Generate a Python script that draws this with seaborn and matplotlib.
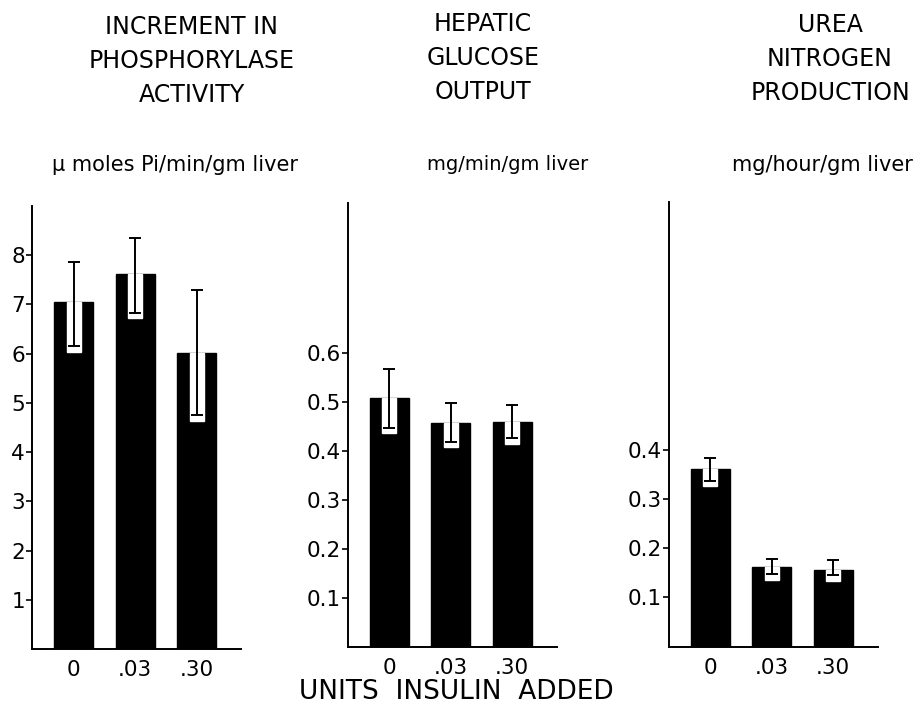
import seaborn as sns
import matplotlib.pyplot as plt

# insulin doses (units added) and readings
doses = ['0', '.03', '.30']

phos_mean = [7.05, 7.62, 6.02]
phos_hi = [7.86, 8.36, 7.30]
phos_lo = [6.15, 6.83, 4.75]

gluc_mean = [0.509, 0.458, 0.460]
gluc_hi = [0.568, 0.499, 0.494]
gluc_lo = [0.447, 0.419, 0.426]

urea_mean = [0.362, 0.162, 0.157]
urea_hi = [0.385, 0.178, 0.177]
urea_lo = [0.337, 0.147, 0.145]

phos_ticks = [1, 2, 3, 4, 5, 6, 7, 8]
gluc_ticks = [0.1, 0.2, 0.3, 0.4, 0.5, 0.6]
urea_ticks = [0.1, 0.2, 0.3, 0.4]

titles = ['INCREMENT IN\nPHOSPHORYLASE\nACTIVITY',
          'HEPATIC\nGLUCOSE\nOUTPUT',
          'UREA\nNITROGEN\nPRODUCTION']
units = ['\u03bc moles Pi/min/gm liver', 'mg/min/gm liver', 'mg/hour/gm liver']

sns.set_style('ticks')
plt.rcParams['font.family'] = ['DejaVu Sans']
plt.rcParams['text.color'] = 'black'

W, H = 921, 721
fig = plt.figure(figsize=(W / 100, H / 100), dpi=100)


def px_axes(left, base, top, width=209):
    return fig.add_axes([left / W, (H - base) / H, width / W, (base - top) / H])


panels = [
    (px_axes(32, 649, 206), phos_mean, phos_hi, phos_lo, phos_ticks, 9.0, lambda v: f'{v:d}'),
    (px_axes(347.5, 647.3, 203), gluc_mean, gluc_hi, gluc_lo, gluc_ticks, 0.906, lambda v: f'{v:.1f}'),
    (px_axes(668.5, 646.6, 201.7), urea_mean, urea_hi, urea_lo, urea_ticks, 0.906, lambda v: f'{v:.1f}'),
]

for ax, mean, hi, lo, ticks, ytop, fmt in panels:
    sns.barplot(x=doses, y=mean, color='black', width=0.63, saturation=1,
                edgecolor='black', ax=ax)
    pos = list(range(len(doses)))
    # white window inside the bar behind the lower half of the error bar
    pad = ytop * 0.012
    win_bottom = [l - pad for l in lo]
    win_height = [m - b for m, b in zip(mean, win_bottom)]
    ax.bar(pos, win_height, bottom=win_bottom, width=0.23, color='white', zorder=3)
    yerr = [[m - l for m, l in zip(mean, lo)], [h - m for m, h in zip(mean, hi)]]
    ax.errorbar(pos, mean, yerr=yerr, fmt='none', ecolor='black', elinewidth=1.4,
                capsize=4.5, capthick=1.4, zorder=4)

    ax.set_xlim(-0.68, 2.72)
    ax.set_ylim(0, ytop)
    ax.set_yticks(ticks)
    ax.set_yticklabels([fmt(t) for t in ticks])
    ax.tick_params(axis='y', direction='out', length=4, width=1.2, pad=1,
                   labelsize=15.5, color='black', labelcolor='black')
    ax.tick_params(axis='x', length=0, pad=8, labelsize=15.5, labelcolor='black')
    for side in ['top', 'right']:
        ax.spines[side].set_visible(False)
    for side in ['left', 'bottom']:
        ax.spines[side].set_linewidth(1.4)
        ax.spines[side].set_color('black')
    ax.set_xlabel('')
    ax.set_ylabel('')

title_pos = [(191.7, 61), (483, 58), (830, 59)]
unit_pos = [(175, 165), (508, 165), (822, 165)]
unit_size = [15, 14, 15]
for t, (x, y) in zip(titles, title_pos):
    fig.text(x / W, 1 - y / H, t, ha='center', va='center', multialignment='center',
             fontsize=17, linespacing=1.52)
for u, (x, y), s in zip(units, unit_pos, unit_size):
    fig.text(x / W, 1 - y / H, u, ha='center', va='center', fontsize=s)

fig.text(456 / W, 1 - 692 / H, 'UNITS  INSULIN  ADDED', ha='center', va='center', fontsize=19)

fig.savefig('out.png', dpi=100)
